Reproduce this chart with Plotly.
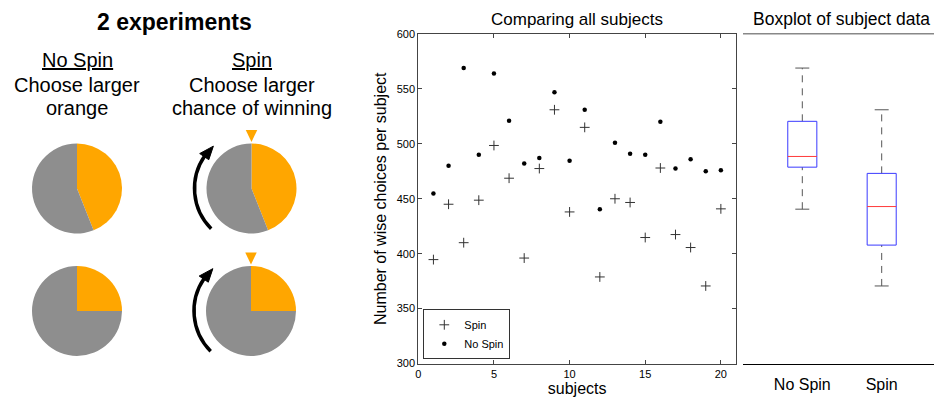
import numpy as np
import plotly.graph_objects as go

# ---------------- data ----------------
subjects = list(range(1, 21))
spin = [394.6, 445, 410, 448.7, 498.5, 468.7, 396, 477.5, 531, 438,
        515, 378.8, 450, 446.6, 414.7, 478, 417.4, 405.6, 370.6, 440.8]
no_spin = [454.7, 480, 569, 490, 564, 521, 482, 487, 547, 484.5,
           531, 440.5, 501, 491, 490, 520, 477.5, 486, 475, 476]
box_groups = ["No Spin", "Spin"]
pie_labels = ["orange", "grey"]
pie_top = [44, 56]
pie_bottom = [25, 75]

W, H = 934, 398
FONT = "Liberation Sans, Arial, sans-serif"
ORANGE = "#FFA600"
GREY = "#8E8E8E"

def px(x):
    return x / W

def py(y):
    return 1 - y / H

fig = go.Figure()

# ---------------- scatter panel ----------------
fig.add_trace(go.Scatter(
    x=subjects, y=spin, mode="markers", name="Spin",
    marker=dict(symbol="cross-thin", size=7, line=dict(width=1, color="#333")),
    xaxis="x", yaxis="y"))
fig.add_trace(go.Scatter(
    x=subjects, y=no_spin, mode="markers", name="No Spin",
    marker=dict(symbol="circle", size=4.5, color="black"),
    xaxis="x", yaxis="y"))

# ---------------- boxplot panel (MATLAB style) ----------------
half_w = 0.183
cap_w = 0.088
for i, (name, vals) in enumerate(zip(box_groups, [no_spin, spin]), start=1):
    v = np.array(vals)
    q1, med, q3 = np.percentile(v, [25, 50, 75], method="hazen")
    iqr = q3 - q1
    lo = v[v >= q1 - 1.5 * iqr].min()
    hi = v[v <= q3 + 1.5 * iqr].max()
    common = dict(xaxis="x2", yaxis="y2", mode="lines", showlegend=False, hoverinfo="skip")
    fig.add_trace(go.Scatter(x=[i, i], y=[q3, hi], line=dict(color="#555", width=1, dash="7px,6px"), **common))
    fig.add_trace(go.Scatter(x=[i, i], y=[lo, q1], line=dict(color="#555", width=1, dash="7px,6px"), **common))
    fig.add_trace(go.Scatter(x=[i - cap_w, i + cap_w], y=[hi, hi], line=dict(color="#555", width=1), **common))
    fig.add_trace(go.Scatter(x=[i - cap_w, i + cap_w], y=[lo, lo], line=dict(color="#555", width=1), **common))
    fig.add_trace(go.Scatter(x=[i - half_w, i + half_w, i + half_w, i - half_w, i - half_w],
                             y=[q1, q1, q3, q3, q1], line=dict(color="#3a3aff", width=1), **common))
    fig.add_trace(go.Scatter(x=[i - half_w, i + half_w], y=[med, med],
                             line=dict(color="#ff3a3a", width=1), **common))

# ---------------- pies ----------------
R = 45
pie_specs = [(77, 188.5, pie_top), (251.5, 188.5, pie_top),
             (77, 311, pie_bottom), (251, 311, pie_bottom)]
for cx, cy, vals in pie_specs:
    fig.add_trace(go.Pie(
        labels=pie_labels, values=vals, sort=False, direction="clockwise",
        rotation=0, textinfo="none", hoverinfo="skip", showlegend=False,
        marker=dict(colors=[ORANGE, GREY], line=dict(width=0)),
        domain=dict(x=[px(cx - R), px(cx + R)], y=[py(cy + R), py(cy - R)])))

# ---------------- decorations (arrows, triangles) ----------------
shapes = []

def arc_arrow(cx, cy, r=57, t0=225, t1=145, tip=132, head_half=5.5):
    a0, a1 = np.radians(t0), np.radians(t1)
    span = abs(t0 - t1)
    k = 4 / 3 * np.tan(np.radians(span / 4))
    P0 = np.array([cx + r * np.cos(a0), cy - r * np.sin(a0)])
    P3 = np.array([cx + r * np.cos(a1), cy - r * np.sin(a1)])
    d0 = np.array([np.sin(a0), np.cos(a0)])
    d1 = np.array([np.sin(a1), np.cos(a1)])
    C1 = P0 + k * r * d0
    C2 = P3 - k * r * d1
    pts = [P0, C1, C2, P3]
    path = "M {:.5f},{:.5f} C {:.5f},{:.5f} {:.5f},{:.5f} {:.5f},{:.5f}".format(
        *[v for p in pts for v in (px(p[0]), py(p[1]))])
    shapes.append(dict(type="path", xref="paper", yref="paper", path=path,
                       line=dict(color="black", width=3.5)))
    at = np.radians(tip)
    T = np.array([cx + r * np.cos(at), cy - r * np.sin(at)])
    ab = np.radians(t1 + 1)
    B1 = np.array([cx + (r - head_half) * np.cos(ab), cy - (r - head_half) * np.sin(ab)])
    B2 = np.array([cx + (r + head_half) * np.cos(ab), cy - (r + head_half) * np.sin(ab)])
    hp = "M {:.5f},{:.5f} L {:.5f},{:.5f} L {:.5f},{:.5f} Z".format(
        px(T[0]), py(T[1]), px(B1[0]), py(B1[1]), px(B2[0]), py(B2[1]))
    shapes.append(dict(type="path", xref="paper", yref="paper", path=hp,
                       fillcolor="black", line=dict(color="black", width=1)))

arc_arrow(251.5, 188.5)
arc_arrow(251, 311)

def tri(cx, ytop, w=11.5, h=12):
    p = "M {:.5f},{:.5f} L {:.5f},{:.5f} L {:.5f},{:.5f} Z".format(
        px(cx - w / 2), py(ytop), px(cx + w / 2), py(ytop), px(cx), py(ytop + h))
    shapes.append(dict(type="path", xref="paper", yref="paper", path=p,
                       fillcolor=ORANGE, line=dict(width=0)))

tri(251.5, 130)
tri(251, 252.5)

shapes.append(dict(type="line", xref="paper", yref="paper",
                   x0=px(743), x1=1, y0=py(33.7), y1=py(33.7),
                   line=dict(color="#888", width=1.5)))

# ---------------- text ----------------
ann = []

def txt(x, y, s, size, **kw):
    ann.append(dict(x=px(x), y=py(y), xref="paper", yref="paper", text=s,
                    showarrow=False, xanchor="center", yanchor="middle",
                    font=dict(family=FONT, size=size, color="black"), **kw))

txt(174, 22, "<b>2 experiments</b>", 23)
txt(77, 60, "<u>No Spin</u>", 20)
txt(77, 85, "Choose larger", 20)
txt(77, 108, "orange", 20)
txt(252, 60, "<u>Spin</u>", 20)
txt(252, 85, "Choose larger", 20)
txt(252, 108, "chance of winning", 20)
txt(577, 19, "Comparing all subjects", 17)
txt(841, 19, "Boxplot of subject data", 17.5)

# ---------------- layout ----------------
x_dom = [px(418.3), px(736)]
y_dom = [py(363.5), py(34)]
axis_common = dict(showgrid=False, zeroline=False, showline=True, mirror="ticks",
                   linecolor="#444", linewidth=1, ticks="inside", ticklen=4,
                   tickcolor="#444", tickfont=dict(family=FONT, size=11, color="black"))

fig.update_layout(
    width=W, height=H,
    margin=dict(l=0, r=0, t=0, b=0),
    paper_bgcolor="white", plot_bgcolor="white",
    font=dict(family=FONT, color="black"),
    xaxis=dict(domain=x_dom, range=[0, 21], tickvals=[0, 5, 10, 15, 20],
               anchor="y", automargin=False,
               title=dict(text="subjects", font=dict(family=FONT, size=16), standoff=0),
               **axis_common),
    yaxis=dict(domain=y_dom, range=[300, 600], tickvals=[300, 350, 400, 450, 500, 550, 600],
               anchor="x", automargin=False,
               title=dict(text="Number of wise choices per subject", font=dict(family=FONT, size=16), standoff=6),
               **axis_common),
    xaxis2=dict(domain=[px(743), 1], range=[0.253, 2.659], anchor="y2",
                tickvals=[1, 2], ticktext=box_groups, ticks="", showgrid=False,
                zeroline=False, showline=True, linecolor="black", linewidth=1.2,
                tickfont=dict(family=FONT, size=16, color="black"),
                ticklabelstandoff=6, automargin=False),
    yaxis2=dict(domain=y_dom, range=[300, 600], anchor="x2", visible=False),
    legend=dict(x=px(423.3), y=py(359.3), xanchor="left", yanchor="bottom",
                bgcolor="white", bordercolor="#333", borderwidth=1,
                font=dict(family=FONT, size=11, color="black"),
                itemwidth=30, tracegroupgap=0),
    shapes=shapes,
    annotations=ann,
    showlegend=True,
)

fig.write_html("out.html", config={"displayModeBar": False},
               post_script="document.body.style.margin='0';document.body.style.overflow='hidden';")
